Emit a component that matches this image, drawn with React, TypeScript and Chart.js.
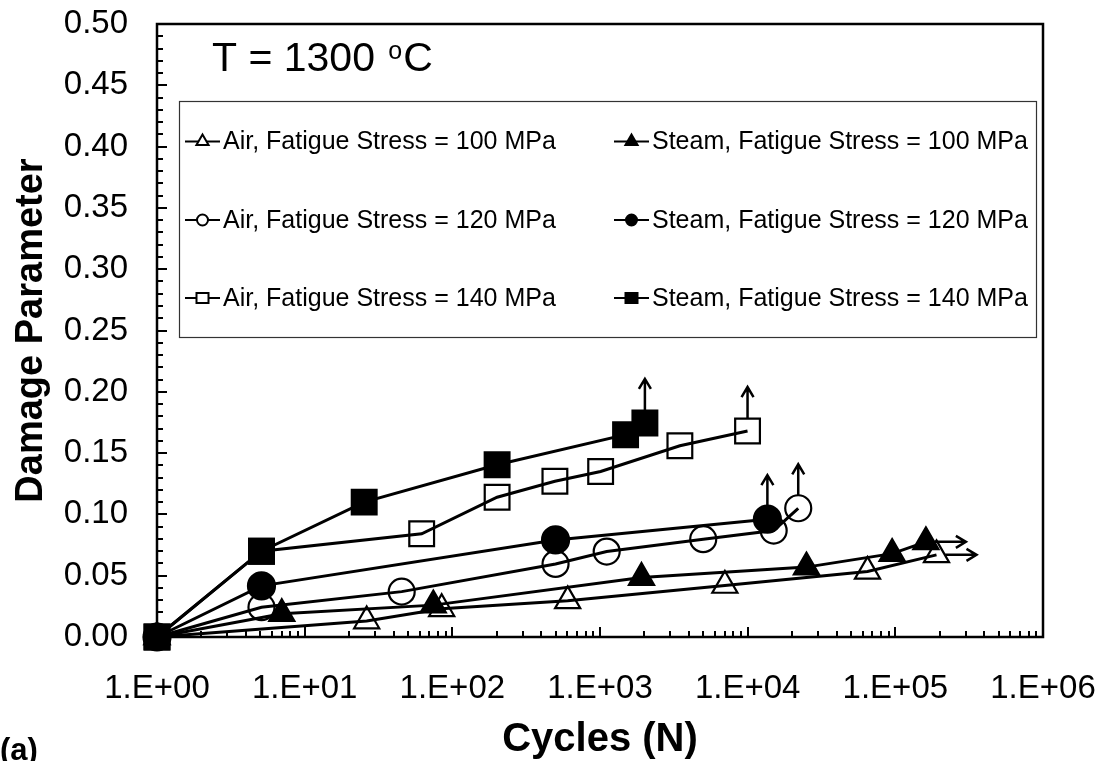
import React, { useEffect, useRef } from 'react';
import { Chart, registerables } from 'chart.js';

Chart.register(...registerables);

const FONT = '"Liberation Sans", Arial, Helvetica, sans-serif';

// ---- data (Cycles N, Damage Parameter) ----
const air100Cycles = [1, 26.3, 84.7, 604, 7010, 64800, 190000];
const air100Damage = [0, 0.013, 0.023, 0.0295, 0.042, 0.0535, 0.067];
const steam100Cycles = [1, 7.0, 74.3, 1910, 25000, 95100, 161000];
const steam100Damage = [0, 0.019, 0.026, 0.0485, 0.057, 0.068, 0.0776];
const air120Cycles = [1, 5.1, 45.4, 500, 1110, 5000, 15000, 22000];
const air120Damage = [0, 0.0243, 0.037, 0.0596, 0.0697, 0.0798, 0.0868, 0.105];
const steam120Cycles = [1, 5.1, 500, 13600];
const steam120Damage = [0, 0.0417, 0.0792, 0.0961];
const air140Cycles = [1, 5.1, 62, 201, 495, 1010, 3475, 9980];
const air140Damage = [0, 0.07, 0.0842, 0.114, 0.127, 0.135, 0.156, 0.168];
const steam140Cycles = [1, 5.1, 25.3, 201, 1490, 2014];
const steam140Damage = [0, 0.07, 0.11, 0.1405, 0.165, 0.1746];

const seriesLabels = [
  'Air, Fatigue Stress = 100 MPa',
  'Air, Fatigue Stress = 120 MPa',
  'Air, Fatigue Stress = 140 MPa',
  'Steam, Fatigue Stress = 100 MPa',
  'Steam, Fatigue Stress = 120 MPa',
  'Steam, Fatigue Stress = 140 MPa',
];

// run-out arrows on the last point of each series
const arrowDirections = ['right', 'up', 'up', 'right', 'up', 'up'];

const xTickValues = [1, 10, 100, 1000, 10000, 100000, 1000000];
const xTickLabels = ['1.E+00', '1.E+01', '1.E+02', '1.E+03', '1.E+04', '1.E+05', '1.E+06'];
const yTickValues = [0, 0.05, 0.1, 0.15, 0.2, 0.25, 0.3, 0.35, 0.4, 0.45, 0.5];

const titleText = 'T = 1300 ';
const titleSup = 'o';
const titleUnit = 'C';
const panelLabel = '(a)';

type Spec = { style: string; filled: boolean; radius: number };
const specs: Spec[] = [
  { style: 'triangle', filled: false, radius: 14.5 },
  { style: 'circle', filled: false, radius: 13 },
  { style: 'rect', filled: false, radius: 17.5 },
  { style: 'triangle', filled: true, radius: 14.5 },
  { style: 'circle', filled: true, radius: 13.5 },
  { style: 'rect', filled: true, radius: 17.5 },
];

const cyclesList = [air100Cycles, air120Cycles, air140Cycles, steam100Cycles, steam120Cycles, steam140Cycles];
const damageList = [air100Damage, air120Damage, air140Damage, steam100Damage, steam120Damage, steam140Damage];

function markerHalf(spec: Spec, dir: string) {
  if (spec.style === 'rect') return spec.radius * Math.SQRT1_2;
  if (spec.style === 'triangle') return dir === 'up' ? spec.radius : spec.radius * 0.6;
  return spec.radius;
}

function drawLegendMarker(ctx: CanvasRenderingContext2D, spec: Spec, cx: number, cy: number) {
  ctx.beginPath();
  if (spec.style === 'triangle') {
    const r = 7;
    ctx.moveTo(cx, cy - r);
    ctx.lineTo(cx + r * 0.866, cy + r / 2);
    ctx.lineTo(cx - r * 0.866, cy + r / 2);
    ctx.closePath();
  } else if (spec.style === 'circle') {
    ctx.arc(cx, cy, 5.5, 0, Math.PI * 2);
  } else {
    ctx.rect(cx - 6, cy - 5, 12, 10);
  }
  ctx.fillStyle = spec.filled ? '#000' : '#fff';
  ctx.fill();
  ctx.lineWidth = 2;
  ctx.strokeStyle = '#000';
  ctx.stroke();
}

const extrasPlugin = {
  id: 'extras',
  afterDatasetsDraw(chart: any) {
    const { ctx, chartArea: a, scales } = chart;
    const x = scales.x;
    const y = scales.y;
    ctx.save();
    // plot frame
    ctx.strokeStyle = '#000';
    ctx.lineWidth = 2.5;
    ctx.strokeRect(a.left, a.top, a.right - a.left, a.bottom - a.top);
    // y ticks (inside)
    ctx.lineWidth = 2;
    for (let i = 0; i <= 50; i++) {
      const py = Math.round(y.getPixelForValue(i / 100));
      const len = i % 5 === 0 ? 10 : 6;
      ctx.beginPath();
      ctx.moveTo(a.left, py);
      ctx.lineTo(a.left + len, py);
      ctx.stroke();
    }
    // x ticks (inside, log)
    for (let d = 0; d < 6; d++) {
      for (let m = 1; m <= 10; m++) {
        const v = m * Math.pow(10, d);
        const px = Math.round(x.getPixelForValue(v));
        const len = m === 1 || m === 10 ? 10 : 6;
        ctx.beginPath();
        ctx.moveTo(px, a.bottom);
        ctx.lineTo(px, a.bottom - len);
        ctx.stroke();
      }
    }
    // run-out arrows
    ctx.lineWidth = 2.5;
    chart.data.datasets.forEach((ds: any) => {
      const si = ds.seriesIndex;
      const dir = arrowDirections[si];
      const last = ds.data[ds.data.length - 1];
      const cx = x.getPixelForValue(last.x);
      const cy = y.getPixelForValue(last.y);
      const half = markerHalf(specs[si], dir);
      const L = dir === 'up' ? 44 : 40;
      ctx.beginPath();
      if (dir === 'up') {
        const tip = cy - L;
        ctx.moveTo(cx, cy - half);
        ctx.lineTo(cx, tip);
        ctx.moveTo(cx - 6, tip + 10);
        ctx.lineTo(cx, tip);
        ctx.lineTo(cx + 6, tip + 10);
      } else {
        const tip = cx + L;
        ctx.moveTo(cx + half, cy);
        ctx.lineTo(tip, cy);
        ctx.moveTo(tip - 10, cy - 6);
        ctx.lineTo(tip, cy);
        ctx.lineTo(tip - 10, cy + 6);
      }
      ctx.stroke();
    });
    // legend
    const lx0 = 179, ly0 = 101, lx1 = 1036, ly1 = 337;
    ctx.fillStyle = '#fff';
    ctx.fillRect(lx0, ly0, lx1 - lx0, ly1 - ly0);
    ctx.lineWidth = 1.2;
    ctx.strokeStyle = '#333';
    ctx.strokeRect(lx0 + 0.5, ly0 + 0.5, lx1 - lx0, ly1 - ly0);
    const rows = [141.5, 220, 298];
    const cols = [185, 614];
    ctx.font = `25px ${FONT}`;
    ctx.textBaseline = 'middle';
    ctx.textAlign = 'left';
    seriesLabels.forEach((label, i) => {
      const col = i < 3 ? 0 : 1;
      const row = i % 3;
      const sx = cols[col];
      const sy = rows[row];
      ctx.strokeStyle = '#000';
      ctx.lineWidth = 2;
      ctx.beginPath();
      ctx.moveTo(sx, sy);
      ctx.lineTo(sx + 35, sy);
      ctx.stroke();
      drawLegendMarker(ctx, specs[i], sx + 17.5, sy);
      ctx.fillStyle = '#000';
      ctx.fillText(label, sx + 38, sy + 1);
    });
    // temperature annotation
    ctx.fillStyle = '#000';
    ctx.textBaseline = 'alphabetic';
    ctx.font = `41px ${FONT}`;
    ctx.fillText(titleText, 212, 71);
    let tx = 212 + ctx.measureText(titleText).width;
    ctx.font = `25px ${FONT}`;
    ctx.fillText(titleSup, tx + 2, 59);
    tx += 2 + ctx.measureText(titleSup).width + 1;
    ctx.font = `41px ${FONT}`;
    ctx.fillText(titleUnit, tx, 71);
    // panel label
    ctx.font = `bold 31px ${FONT}`;
    ctx.fillText(panelLabel, 0, 760);
    ctx.restore();
  },
};

function zeroPadding(s: any) {
  s.paddingTop = 0;
  s.paddingBottom = 0;
  s.paddingLeft = 0;
  s.paddingRight = 0;
}

export default function App() {
  const ref = useRef<HTMLCanvasElement | null>(null);
  useEffect(() => {
    if (!ref.current) return;
    Chart.defaults.font.family = FONT;
    Chart.defaults.color = '#000';
    const order = [5, 4, 3, 2, 1, 0]; // filled markers on top
    const datasets = order.map((si) => {
      const sp = specs[si];
      return {
        label: seriesLabels[si],
        seriesIndex: si,
        data: cyclesList[si].map((c, k) => ({ x: c, y: damageList[si][k] })),
        borderColor: '#000',
        borderWidth: 3,
        pointStyle: sp.style,
        pointRadius: sp.radius,
        pointHoverRadius: sp.radius,
        pointBorderWidth: 2.2,
        pointBorderColor: '#000',
        pointBackgroundColor: sp.filled ? '#000' : 'rgba(0,0,0,0)',
        tension: 0,
        clip: false,
        fill: false,
      } as any;
    });
    const chart = new Chart(ref.current, {
      type: 'line',
      data: { datasets },
      options: {
        animation: false,
        responsive: false,
        events: [],
        layout: { padding: { left: 0, top: 24, right: 60, bottom: 0 } },
        plugins: { legend: { display: false }, tooltip: { enabled: false }, title: { display: false } },
        scales: {
          x: {
            type: 'logarithmic',
            min: 1,
            max: 1000000,
            grid: { display: false, drawTicks: false },
            border: { display: false },
            afterBuildTicks: (s: any) => {
              s.ticks = xTickValues.map((v) => ({ value: v }));
            },
            afterFit: (s: any) => {
              s.height = 124;
              zeroPadding(s);
            },
            ticks: {
              autoSkip: false,
              maxRotation: 0,
              padding: 32,
              font: { size: 33 },
              color: '#000',
              callback: (v: any) => {
                const i = xTickValues.indexOf(Number(v));
                return i >= 0 ? xTickLabels[i] : '';
              },
            },
            title: {
              display: true,
              text: 'Cycles (N)',
              color: '#000',
              font: { size: 40, weight: 'bold', lineHeight: 1 },
              padding: { top: 0, bottom: 1 },
            },
          },
          y: {
            type: 'linear',
            min: 0,
            max: 0.5,
            grid: { display: false, drawTicks: false },
            border: { display: false },
            afterBuildTicks: (s: any) => {
              s.ticks = yTickValues.map((v) => ({ value: v }));
            },
            afterFit: (s: any) => {
              s.width = 157;
              zeroPadding(s);
            },
            ticks: {
              padding: 29,
              font: { size: 33 },
              color: '#000',
              callback: (v: any) => Number(v).toFixed(2),
            },
            title: {
              display: true,
              text: 'Damage Parameter',
              color: '#000',
              font: { size: 38, weight: 'bold', lineHeight: 1.2 },
              padding: { top: 9, bottom: 0 },
            },
          },
        },
      } as any,
      plugins: [extrasPlugin],
    });
    return () => chart.destroy();
  }, []);
  return (
    <div style={{ position: 'absolute', left: 0, top: 0, width: 1103, height: 761, background: '#fff' }}>
      <canvas ref={ref} width={1103} height={761} />
    </div>
  );
}
